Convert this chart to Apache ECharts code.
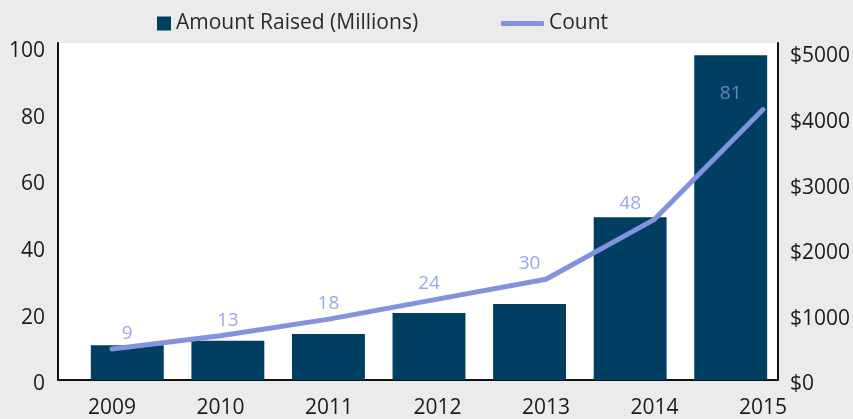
<!DOCTYPE html>
<html>
<head>
<meta charset="utf-8">
<script src="https://cdn.jsdelivr.net/npm/echarts@6/dist/echarts.min.js"></script>
<style>
  html, body { margin: 0; padding: 0; background: #ebebeb; }
  #chart { width: 853px; height: 419px; }
</style>
</head>
<body>
<div id="chart"></div>
<script>
const years = ['2009', '2010', '2011', '2012', '2013', '2014', '2015'];
const amountRaised = [530, 600, 700, 1020, 1160, 2480, 4950];
const count = [9, 13, 18, 24, 30, 48, 81];

const FONT = "'Open Sans', sans-serif";
const TEXT = '#1a1a1a';
const BAR_COLOR = '#003f62';
const LINE_COLOR = '#8292dc';

const chart = echarts.init(document.getElementById('chart'));

const plotTop = 43;
const plotBottom = 39;

const option = {
  backgroundColor: '#ebebeb',
  animation: false,
  textStyle: { fontFamily: FONT },
  legend: [
    {
      data: ['Amount Raised (Millions)'],
      left: 152,
      top: 8,
      icon: 'rect',
      itemWidth: 14,
      itemHeight: 14,
      textStyle: { fontFamily: FONT, fontSize: 21, color: '#2a2a2a' },
    },
    {
      data: ['Count'],
      left: 496,
      top: 8,
      icon: 'roundRect',
      itemWidth: 43,
      itemHeight: 5,
      textStyle: { fontFamily: FONT, fontSize: 21, color: '#2a2a2a' },
    },
  ],
  grid: [
    // white plot area + visible axes
    {
      left: 58, right: 71, top: plotTop, bottom: plotBottom,
      show: true, backgroundColor: '#ffffff', borderWidth: 0,
    },
    // bars
    { left: 77, right: 72, top: plotTop, bottom: plotBottom },
    // count line
    { left: 112, right: 90, top: plotTop, bottom: plotBottom },
  ],
  xAxis: [
    {
      gridIndex: 0,
      type: 'value',
      min: 0,
      max: 1,
      axisLine: { show: true, onZero: false, lineStyle: { color: '#111', width: 2 } },
      axisTick: { show: false },
      axisLabel: { show: false },
      splitLine: { show: false },
    },
    {
      gridIndex: 1,
      type: 'category',
      data: years,
      show: false,
    },
    {
      gridIndex: 2,
      type: 'category',
      data: years,
      boundaryGap: false,
      axisLine: { show: false },
      axisTick: { show: false },
      axisLabel: { fontFamily: FONT, fontSize: 21, color: TEXT, margin: 19 },
    },
  ],
  yAxis: [
    {
      gridIndex: 0,
      type: 'value',
      position: 'left',
      min: 0,
      max: 101,
      interval: 20,
      axisLine: { show: true, onZero: false, lineStyle: { color: '#111', width: 2 } },
      axisTick: { show: false },
      splitLine: { show: false },
      axisLabel: {
        fontFamily: FONT, fontSize: 21, color: TEXT, margin: 13,
        verticalAlign: 'top',
        lineHeight: 9,
        formatter: (v) => (v % 20 === 0 ? String(v) : ''),
      },
    },
    {
      gridIndex: 0,
      type: 'value',
      position: 'right',
      min: 0,
      max: 5137,
      interval: 1000,
      axisLine: { show: true, onZero: false, lineStyle: { color: '#111', width: 2 } },
      axisTick: { show: false },
      splitLine: { show: false },
      axisLabel: {
        fontFamily: FONT, fontSize: 21, color: TEXT, margin: 12,
        verticalAlign: 'top',
        lineHeight: 9,
        formatter: (v) => (v % 1000 === 0 ? '$' + v : ''),
      },
    },
    { gridIndex: 1, type: 'value', min: 0, max: 5137, show: false },
    { gridIndex: 1, type: 'value', min: 0, max: 101, show: false },
    { gridIndex: 2, type: 'value', min: 0, max: 101, show: false },
  ],
  series: [
    {
      name: 'Amount Raised (Millions)',
      type: 'bar',
      xAxisIndex: 1,
      yAxisIndex: 2,
      data: amountRaised,
      barWidth: '72.5%',
      itemStyle: { color: BAR_COLOR },
    },
    {
      name: 'Count',
      type: 'line',
      xAxisIndex: 2,
      yAxisIndex: 4,
      data: count,
      symbol: 'none',
      itemStyle: { color: LINE_COLOR },
      lineStyle: { color: LINE_COLOR, width: 5, cap: 'round', join: 'round' },
      z: 3,
    },
    {
      name: 'countLabels',
      type: 'scatter',
      xAxisIndex: 1,
      yAxisIndex: 3,
      data: count,
      symbolSize: 1,
      itemStyle: { color: 'rgba(0,0,0,0)' },
      label: {
        show: true,
        position: 'top',
        distance: 6,
        fontFamily: FONT,
        fontSize: 19,
        color: LINE_COLOR,
      },
      z: 4,
    },
  ],
};

chart.setOption(option);
</script>
</body>
</html>
